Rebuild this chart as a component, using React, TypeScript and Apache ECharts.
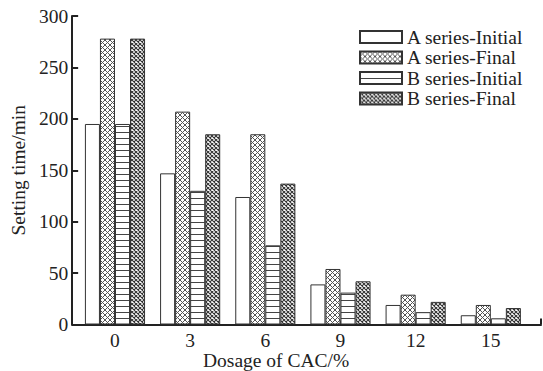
import React, { useEffect, useRef } from "react";
import * as echarts from "echarts";

const categories = ["0", "3", "6", "9", "12", "15"];
const seriesNames = ["A series-Initial", "A series-Final", "B series-Initial", "B series-Final"];
const aInitial = [195, 147, 124, 39, 19, 9];
const aFinal = [278, 207, 185, 54, 29, 19];
const bInitial = [195, 130, 77, 31, 12, 6];
const bFinal = [278, 185, 137, 42, 22, 16];
const yTicks = [0, 50, 100, 150, 200, 250, 300];

const FONT = '"Liberation Serif", "Times New Roman", serif';
const INK = "#222";
const FS = 19.5;

function crossTile(size: number, color: string, lw: number) {
  const c = document.createElement("canvas");
  c.width = size;
  c.height = size;
  const ctx = c.getContext("2d")!;
  ctx.fillStyle = "#fff";
  ctx.fillRect(0, 0, size, size);
  ctx.strokeStyle = color;
  ctx.lineWidth = lw;
  ctx.beginPath();
  ctx.moveTo(0, 0);
  ctx.lineTo(size, size);
  ctx.moveTo(size, 0);
  ctx.lineTo(0, size);
  ctx.stroke();
  return c;
}

function hLineTile(w: number, h: number, color: string) {
  const c = document.createElement("canvas");
  c.width = w;
  c.height = h;
  const ctx = c.getContext("2d")!;
  ctx.fillStyle = "#fff";
  ctx.fillRect(0, 0, w, h);
  ctx.fillStyle = color;
  ctx.fillRect(0, 0, w, 1);
  return c;
}

export default function App() {
  const ref = useRef<HTMLDivElement>(null);
  useEffect(() => {
    if (!ref.current) return;
    const chart = echarts.init(ref.current, undefined, { renderer: "svg" });
    const pA = crossTile(5, "#555", 1);
    const pB = crossTile(4, "#333", 1.1);
    const pH = hLineTile(4, 6, "#444");
    const fills: any[] = [
      "#fff",
      { image: pA, repeat: "repeat", imageWidth: 5, imageHeight: 5 },
      { image: pH, repeat: "repeat", imageWidth: 4, imageHeight: 6 },
      { image: pB, repeat: "repeat", imageWidth: 4, imageHeight: 4 },
    ];
    const datas = [aInitial, aFinal, bInitial, bFinal];
    const top = 16;
    const bottom = 46.5;
    chart.setOption({
      animation: false,
      backgroundColor: "#fff",
      textStyle: { fontFamily: FONT, color: INK },
      grid: [
        { left: 65, right: 2, top, bottom },
        { left: 77.4, right: 14.6, top, bottom },
      ],
      legend: {
        orient: "vertical",
        left: 359,
        top: 27,
        padding: 0,
        itemWidth: 42,
        itemHeight: 12,
        itemGap: 0.5,
        icon: "rect",
        data: seriesNames,
        textStyle: { fontFamily: FONT, fontSize: FS, color: INK, lineHeight: 20 },
      },
      xAxis: [
        {
          type: "value",
          gridIndex: 0,
          min: 0,
          max: 1,
          interval: 1,
          axisLine: { show: true, lineStyle: { color: INK, width: 2 } },
          axisTick: { show: true, inside: true, length: 6, lineStyle: { color: INK, width: 2 } },
          axisLabel: { show: false },
          splitLine: { show: false },
        },
        {
          type: "category",
          gridIndex: 1,
          data: categories,
          axisLine: { show: false },
          axisTick: { show: true, inside: true, alignWithLabel: true, length: 4, lineStyle: { color: INK, width: 1.5 } },
          axisLabel: { fontFamily: FONT, fontSize: FS, color: INK, margin: 6 },
          splitLine: { show: false },
        },
      ],
      yAxis: [
        {
          type: "value",
          gridIndex: 0,
          min: 0,
          max: 300,
          interval: 50,
          name: "Setting time/min",
          nameLocation: "middle",
          nameGap: 34,
          nameTextStyle: { fontFamily: FONT, fontSize: FS, color: INK },
          axisLine: { show: true, lineStyle: { color: INK, width: 2 } },
          axisTick: { show: true, inside: true, length: 6, lineStyle: { color: INK, width: 2 } },
          axisLabel: {
            fontFamily: FONT,
            fontSize: FS,
            color: INK,
            margin: 4,
            formatter: (v: number) => (yTicks.includes(v) ? String(v) : ""),
          },
          splitLine: { show: false },
        },
        {
          type: "value",
          gridIndex: 1,
          min: 0,
          max: 300,
          interval: 50,
          show: false,
          splitLine: { show: false },
        },
      ],
      graphic: [
        {
          type: "text",
          left: 203,
          top: 350,
          style: { text: "Dosage of CAC/%", font: `${FS}px ${FONT}`, fill: INK },
        },
      ],
      series: seriesNames.map((name, i) => ({
        name,
        type: "bar",
        xAxisIndex: 1,
        yAxisIndex: 1,
        data: datas[i],
        barGap: "0%",
        barCategoryGap: "20%",
        itemStyle: { color: fills[i], borderColor: "#333", borderWidth: 1 },
      })),
    });
    return () => chart.dispose();
  }, []);
  return <div ref={ref} style={{ width: 543, height: 371, position: "absolute", left: 0, top: 0 }} />;
}
